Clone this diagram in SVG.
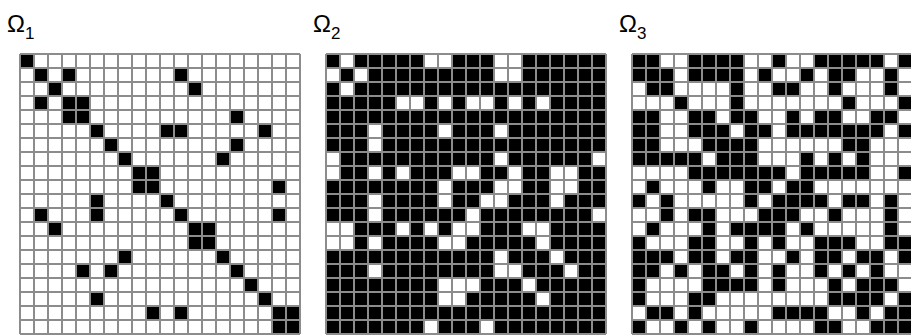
<svg xmlns="http://www.w3.org/2000/svg" xmlns:xlink="http://www.w3.org/1999/xlink" width="911" height="335" viewBox="0 0 911 335">
<style>
.lbl{font-family:"Liberation Sans",Arial,sans-serif;font-size:24px;fill:#000}
.sub{font-size:17px}
.blk{fill:#000}
.wht{fill:#fff}
.lines{fill:none;stroke:#8c8c8c;stroke-width:2}
</style>
<defs>
<path id="gridlines" class="lines" d="M0 0V280M14 0V280M28 0V280M42 0V280M56 0V280M70 0V280M84 0V280M98 0V280M112 0V280M126 0V280M140 0V280M154 0V280M168 0V280M182 0V280M196 0V280M210 0V280M224 0V280M238 0V280M252 0V280M266 0V280M280 0V280M0 0H280M0 14H280M0 28H280M0 42H280M0 56H280M0 70H280M0 84H280M0 98H280M0 112H280M0 126H280M0 140H280M0 154H280M0 168H280M0 182H280M0 196H280M0 210H280M0 224H280M0 238H280M0 252H280M0 266H280M0 280H280"/>
</defs>
<rect width="911" height="335" fill="#fff"/>

<g id="omega1">
<text class="lbl" x="7" y="32">Ω<tspan class="sub" y="39">1</tspan></text>
<g transform="translate(20,54)">
<rect width="280" height="280" class="wht"/>
<path class="blk" d="M0 0h14v14h-14z M14 14h14v14h-14z M42 14h14v14h-14z M154 14h14v14h-14z M28 28h14v14h-14z M168 28h14v14h-14z M14 42h14v14h-14z M42 42h14v14h-14z M56 42h14v14h-14z M42 56h14v14h-14z M56 56h14v14h-14z M210 56h14v14h-14z M70 70h14v14h-14z M140 70h14v14h-14z M154 70h14v14h-14z M238 70h14v14h-14z M84 84h14v14h-14z M210 84h14v14h-14z M98 98h14v14h-14z M196 98h14v14h-14z M112 112h14v14h-14z M126 112h14v14h-14z M112 126h14v14h-14z M126 126h14v14h-14z M252 126h14v14h-14z M70 140h14v14h-14z M140 140h14v14h-14z M14 154h14v14h-14z M70 154h14v14h-14z M154 154h14v14h-14z M252 154h14v14h-14z M28 168h14v14h-14z M168 168h14v14h-14z M182 168h14v14h-14z M168 182h14v14h-14z M182 182h14v14h-14z M98 196h14v14h-14z M196 196h14v14h-14z M56 210h14v14h-14z M84 210h14v14h-14z M210 210h14v14h-14z M224 224h14v14h-14z M70 238h14v14h-14z M238 238h14v14h-14z M126 252h14v14h-14z M154 252h14v14h-14z M252 252h14v14h-14z M266 252h14v14h-14z M252 266h14v14h-14z M266 266h14v14h-14z"/>
<use xlink:href="#gridlines" href="#gridlines"/>
</g>
</g>

<g id="omega2">
<text class="lbl" x="313" y="32">Ω<tspan class="sub" y="39">2</tspan></text>
<g transform="translate(326,54)">
<rect width="280" height="280" class="blk"/>
<path class="wht" d="M14 0h14v14h-14z M98 0h14v14h-14z M112 0h14v14h-14z M168 0h14v14h-14z M182 0h14v14h-14z M0 14h14v14h-14z M28 14h14v14h-14z M168 14h14v14h-14z M182 14h14v14h-14z M14 28h14v14h-14z M70 42h14v14h-14z M84 42h14v14h-14z M112 42h14v14h-14z M140 42h14v14h-14z M154 42h14v14h-14z M182 42h14v14h-14z M210 42h14v14h-14z M42 70h14v14h-14z M112 70h14v14h-14z M168 70h14v14h-14z M42 84h14v14h-14z M0 98h14v14h-14z M168 98h14v14h-14z M266 98h14v14h-14z M0 112h14v14h-14z M42 112h14v14h-14z M70 112h14v14h-14z M126 112h14v14h-14z M140 112h14v14h-14z M182 112h14v14h-14z M224 112h14v14h-14z M238 112h14v14h-14z M112 126h14v14h-14z M168 126h14v14h-14z M182 126h14v14h-14z M224 126h14v14h-14z M238 126h14v14h-14z M42 140h14v14h-14z M112 140h14v14h-14z M154 140h14v14h-14z M168 140h14v14h-14z M224 140h14v14h-14z M42 154h14v14h-14z M140 154h14v14h-14z M266 154h14v14h-14z M0 168h14v14h-14z M14 168h14v14h-14z M70 168h14v14h-14z M98 168h14v14h-14z M126 168h14v14h-14z M140 168h14v14h-14z M196 168h14v14h-14z M210 168h14v14h-14z M0 182h14v14h-14z M14 182h14v14h-14z M42 182h14v14h-14z M112 182h14v14h-14z M126 182h14v14h-14z M210 182h14v14h-14z M168 196h14v14h-14z M224 196h14v14h-14z M42 210h14v14h-14z M168 210h14v14h-14z M182 210h14v14h-14z M238 210h14v14h-14z M112 224h14v14h-14z M126 224h14v14h-14z M140 224h14v14h-14z M196 224h14v14h-14z M112 238h14v14h-14z M126 238h14v14h-14z M210 238h14v14h-14z M98 266h14v14h-14z M154 266h14v14h-14z"/>
<use xlink:href="#gridlines" href="#gridlines"/>
</g>
</g>

<g id="omega3">
<text class="lbl" x="619" y="32">Ω<tspan class="sub" y="39">3</tspan></text>
<g transform="translate(632,54)">
<rect width="280" height="280" class="wht"/>
<path class="blk" d="M0 0h14v14h-14z M14 0h14v14h-14z M56 0h14v14h-14z M70 0h14v14h-14z M84 0h14v14h-14z M98 0h14v14h-14z M140 0h14v14h-14z M182 0h14v14h-14z M196 0h14v14h-14z M210 0h14v14h-14z M224 0h14v14h-14z M238 0h14v14h-14z M266 0h14v14h-14z
M0 14h14v14h-14z M14 14h14v14h-14z M28 14h14v14h-14z M56 14h14v14h-14z M70 14h14v14h-14z M84 14h14v14h-14z M98 14h14v14h-14z M126 14h14v14h-14z M168 14h14v14h-14z M196 14h14v14h-14z M210 14h14v14h-14z M252 14h14v14h-14z
M14 28h14v14h-14z M28 28h14v14h-14z M98 28h14v14h-14z M140 28h14v14h-14z M154 28h14v14h-14z M196 28h14v14h-14z M252 28h14v14h-14z
M42 42h14v14h-14z M98 42h14v14h-14z M210 42h14v14h-14z M266 42h14v14h-14z
M0 56h14v14h-14z M14 56h14v14h-14z M56 56h14v14h-14z M70 56h14v14h-14z M98 56h14v14h-14z M112 56h14v14h-14z M154 56h14v14h-14z M182 56h14v14h-14z M196 56h14v14h-14z M238 56h14v14h-14z M252 56h14v14h-14z
M0 70h14v14h-14z M14 70h14v14h-14z M56 70h14v14h-14z M70 70h14v14h-14z M84 70h14v14h-14z M112 70h14v14h-14z M126 70h14v14h-14z M154 70h14v14h-14z M168 70h14v14h-14z M182 70h14v14h-14z M196 70h14v14h-14z M210 70h14v14h-14z M224 70h14v14h-14z M238 70h14v14h-14z M266 70h14v14h-14z
M0 84h14v14h-14z M14 84h14v14h-14z M70 84h14v14h-14z M84 84h14v14h-14z M98 84h14v14h-14z M112 84h14v14h-14z M210 84h14v14h-14z M224 84h14v14h-14z
M0 98h14v14h-14z M14 98h14v14h-14z M28 98h14v14h-14z M42 98h14v14h-14z M56 98h14v14h-14z M84 98h14v14h-14z M98 98h14v14h-14z M112 98h14v14h-14z M168 98h14v14h-14z M196 98h14v14h-14z M224 98h14v14h-14z
M56 112h14v14h-14z M70 112h14v14h-14z M84 112h14v14h-14z M98 112h14v14h-14z M112 112h14v14h-14z M126 112h14v14h-14z M140 112h14v14h-14z M168 112h14v14h-14z M182 112h14v14h-14z M196 112h14v14h-14z M210 112h14v14h-14z M224 112h14v14h-14z M266 112h14v14h-14z
M14 126h14v14h-14z M70 126h14v14h-14z M112 126h14v14h-14z M126 126h14v14h-14z M154 126h14v14h-14z M168 126h14v14h-14z
M0 140h14v14h-14z M28 140h14v14h-14z M112 140h14v14h-14z M140 140h14v14h-14z M154 140h14v14h-14z M168 140h14v14h-14z M182 140h14v14h-14z M210 140h14v14h-14z M224 140h14v14h-14z M252 140h14v14h-14z
M28 154h14v14h-14z M56 154h14v14h-14z M70 154h14v14h-14z M126 154h14v14h-14z M140 154h14v14h-14z M154 154h14v14h-14z M196 154h14v14h-14z M252 154h14v14h-14z
M14 168h14v14h-14z M70 168h14v14h-14z M98 168h14v14h-14z M112 168h14v14h-14z M126 168h14v14h-14z M140 168h14v14h-14z M168 168h14v14h-14z M252 168h14v14h-14z
M0 182h14v14h-14z M56 182h14v14h-14z M70 182h14v14h-14z M112 182h14v14h-14z M140 182h14v14h-14z M182 182h14v14h-14z M196 182h14v14h-14z M210 182h14v14h-14z M252 182h14v14h-14z M266 182h14v14h-14z
M0 196h14v14h-14z M14 196h14v14h-14z M28 196h14v14h-14z M56 196h14v14h-14z M70 196h14v14h-14z M98 196h14v14h-14z M112 196h14v14h-14z M154 196h14v14h-14z M182 196h14v14h-14z M196 196h14v14h-14z M224 196h14v14h-14z M238 196h14v14h-14z M266 196h14v14h-14z
M0 210h14v14h-14z M14 210h14v14h-14z M42 210h14v14h-14z M70 210h14v14h-14z M84 210h14v14h-14z M112 210h14v14h-14z M140 210h14v14h-14z M182 210h14v14h-14z M210 210h14v14h-14z M238 210h14v14h-14z
M0 224h14v14h-14z M70 224h14v14h-14z M84 224h14v14h-14z M98 224h14v14h-14z M112 224h14v14h-14z M140 224h14v14h-14z M196 224h14v14h-14z M224 224h14v14h-14z M238 224h14v14h-14z M252 224h14v14h-14z
M0 238h14v14h-14z M56 238h14v14h-14z M70 238h14v14h-14z M196 238h14v14h-14z M210 238h14v14h-14z M224 238h14v14h-14z M238 238h14v14h-14z M266 238h14v14h-14z
M14 252h14v14h-14z M28 252h14v14h-14z M56 252h14v14h-14z M140 252h14v14h-14z M154 252h14v14h-14z M168 252h14v14h-14z M182 252h14v14h-14z M224 252h14v14h-14z M252 252h14v14h-14z M266 252h14v14h-14z
M0 266h14v14h-14z M42 266h14v14h-14z M70 266h14v14h-14z M112 266h14v14h-14z M182 266h14v14h-14z M196 266h14v14h-14z M238 266h14v14h-14z M252 266h14v14h-14z M266 266h14v14h-14z"/>
<use xlink:href="#gridlines" href="#gridlines"/>
</g>
</g>
</svg>
